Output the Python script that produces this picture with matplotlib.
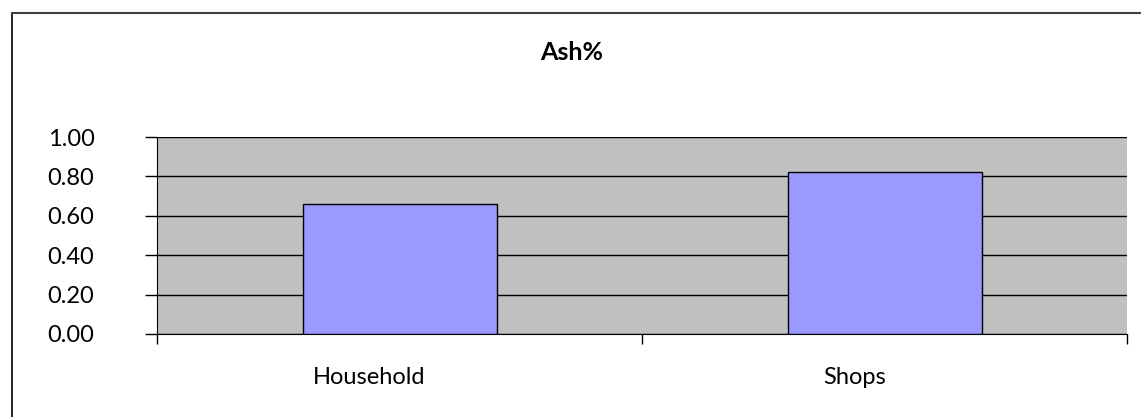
import matplotlib.pyplot as plt
import matplotlib.transforms as mtransforms
from matplotlib.lines import Line2D

categories = ["Household", "Shops"]
ash_pct = [0.66, 0.82]
yticks = [0.0, 0.2, 0.4, 0.6, 0.8, 1.0]

plt.rcParams['font.family'] = ['Lato', 'DejaVu Sans']

W, H = 1141, 417
fig = plt.figure(figsize=(W / 100, H / 100), dpi=100)
ax = fig.add_axes([157 / W, 1 - 334 / H, (1127 - 157) / W, (334 - 137) / H])

x = list(range(len(categories)))
ax.bar(x, ash_pct, width=0.4, color='#9999FF', edgecolor='black', linewidth=1, zorder=3)

ax.set_facecolor('#C0C0C0')
ax.set_xlim(-0.5, len(categories) - 0.5)
ax.set_ylim(0, 1.0)
ax.set_yticks(yticks)
ax.set_yticklabels([f"{v:.2f}" for v in yticks])
ax.yaxis.grid(True, color='black', linewidth=1, zorder=1)
ax.set_axisbelow(True)

# category boundary ticks, labels on minor ticks
ax.set_xticks([i - 0.5 for i in range(len(categories) + 1)])
ax.set_xticklabels([])
ax.set_xticks(x, minor=True)
ax.set_xticklabels(categories, minor=True)
ax.tick_params(axis='x', which='major', length=7, width=1, direction='out')
ax.tick_params(axis='x', which='minor', length=0, pad=24, labelsize=17)
ax.tick_params(axis='y', length=9, width=1, direction='out', pad=36, labelsize=17)
offset = mtransforms.ScaledTranslation(-30 / 100, 0, fig.dpi_scale_trans)
for lab in ax.get_xticklabels(minor=True):
    lab.set_transform(lab.get_transform() + offset)

for side in ['top', 'right']:
    ax.spines[side].set_visible(False)
ax.spines['left'].set_color('black')
ax.spines['bottom'].set_color('black')

fig.text(572 / W, 1 - 53 / H, 'Ash%', ha='center', va='center', fontsize=18, fontweight='bold')

# outer chart frame
fig.add_artist(Line2D([11.5 / W, 11.5 / W], [0, 1 - 12.5 / H], color='black', lw=1.2))
fig.add_artist(Line2D([11.5 / W, 1], [1 - 12.5 / H, 1 - 12.5 / H], color='#404040', lw=1.5))

fig.savefig('out.png', dpi=100)
